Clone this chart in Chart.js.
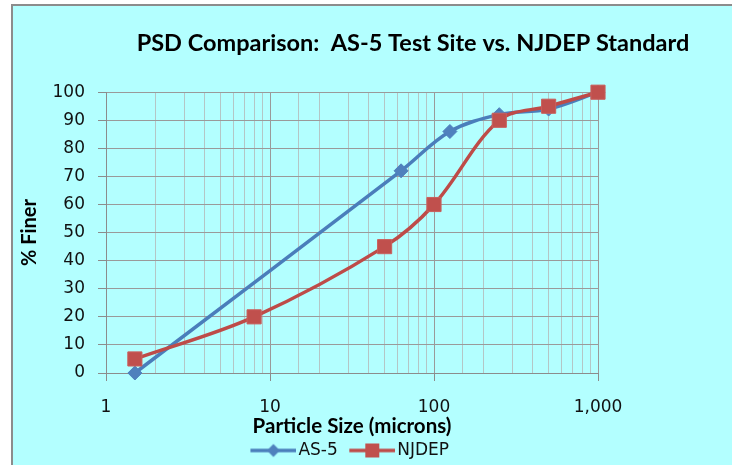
<!DOCTYPE html>
<html><head><meta charset="utf-8">
<script src="https://cdn.jsdelivr.net/npm/chart.js@4/dist/chart.umd.min.js"></script>
<style>html,body{margin:0;padding:0;background:#fff;}canvas{display:block;}</style>
</head><body>
<canvas id="c" width="732" height="465"></canvas>
<script>
// ---- data ----
const chartTitle = 'PSD Comparison:  AS-5 Test Site vs. NJDEP Standard';
const xAxisTitle = 'Particle Size (microns)';
const yAxisTitle = '% Finer';
const seriesNames = ['AS-5', 'NJDEP'];
const as5Sizes = [1.5, 63, 125, 250, 500, 1000];
const as5Finer = [0, 72, 86, 92, 94, 100];
const njdepSizes = [1.5, 8, 50, 100, 250, 500, 1000];
const njdepFiner = [5, 20, 45, 60, 90, 95, 100];
const xLabelValues = [1, 10, 100, 1000];
const yMin = 0, yMax = 100, yStep = 10;

// ---- styles ----
const BLUE_LINE = '#4A7EBB', BLUE = '#4F81BD';
const RED_LINE = '#BE4B48', RED = '#C0504D';
const GRID_MAJOR = '#9A9A9A', GRID_MINOR = '#B4C6C6', AXIS = '#8C8C8C';

function isLabelled(v){ return xLabelValues.some(t => Math.abs(t - v) < 1e-9); }

function legendIcon(lineColor, fill, kind){
  const W = 58, H = 20, L = 46, c = document.createElement('canvas');
  c.width = W; c.height = H;
  const g = c.getContext('2d');
  g.strokeStyle = lineColor; g.lineWidth = 3.5;
  g.beginPath(); g.moveTo(W - L, H/2); g.lineTo(W, H/2); g.stroke();
  g.fillStyle = fill;
  const cx = W - L/2, cy = H/2;
  if (kind === 'diamond'){
    const r = 6.5;
    g.beginPath(); g.moveTo(cx, cy - r); g.lineTo(cx + r, cy); g.lineTo(cx, cy + r); g.lineTo(cx - r, cy); g.closePath(); g.fill();
  } else {
    const s = 14;
    g.fillRect(cx - s/2, cy - s/2, s, s);
  }
  return c;
}
const icons = [legendIcon(BLUE_LINE, BLUE, 'diamond'), legendIcon(RED_LINE, RED, 'square')];

const bgPlugin = {
  id: 'bg',
  beforeDraw(chart){
    const {ctx, width, height} = chart;
    ctx.save();
    ctx.fillStyle = '#ffffff'; ctx.fillRect(0, 0, width, height);
    ctx.fillStyle = '#B3FFFF'; ctx.fillRect(11, 5, width - 11, height - 5);
    ctx.fillStyle = '#8C8C8C';
    ctx.fillRect(11, 4, 2, height - 4);
    ctx.fillRect(11, 4, width - 11, 2);
    ctx.restore();
  }
};
const TITLE_CENTER_X = 413;
const LEGEND_SHIFT_X = -5;
const shiftPlugin = {
  id: 'shiftBlocks',
  afterLayout(chart){
    const t = chart.titleBlock;
    if (t) {
      const dx = TITLE_CENTER_X - (t.left + t.right) / 2;
      t.left += dx; t.right += dx;
    }
    const l = chart.legend;
    if (l) { l.left += LEGEND_SHIFT_X; l.right += LEGEND_SHIFT_X; }
  }
};

new Chart(document.getElementById('c'), {
  type: 'line',
  data: {
    datasets: [
      {
        label: seriesNames[0],
        data: as5Sizes.map((x, i) => ({x, y: as5Finer[i]})),
        borderColor: BLUE_LINE, backgroundColor: BLUE, borderWidth: 3.5,
        pointStyle: 'rectRot', pointRadius: 7, pointBorderWidth: 1,
        pointBackgroundColor: BLUE, pointBorderColor: BLUE,
        tension: 0.35, clip: false, order: 1
      },
      {
        label: seriesNames[1],
        data: njdepSizes.map((x, i) => ({x, y: njdepFiner[i]})),
        borderColor: RED_LINE, backgroundColor: RED, borderWidth: 3.5,
        pointStyle: 'rect', pointRadius: 10, pointBorderWidth: 1,
        pointBackgroundColor: RED, pointBorderColor: '#C9605D',
        tension: 0.35, clip: false, order: 0
      }
    ]
  },
  options: {
    responsive: false,
    animation: false,
    events: [],
    layout: { padding: { top: 0, left: 0, right: 134, bottom: -4 } },
    scales: {
      x: {
        type: 'logarithmic', min: 1, max: 1000,
        afterFit(s){ s.height = 63; },
        grid: {
          color: c => (c.tick && isLabelled(c.tick.value)) ? GRID_MAJOR : GRID_MINOR,
          tickColor: c => (c.tick && isLabelled(c.tick.value)) ? AXIS : 'rgba(0,0,0,0)',
          tickLength: 8, lineWidth: 1
        },
        border: { color: AXIS, width: 1 },
        ticks: {
          autoSkip: false, maxRotation: 0, padding: 16,
          font: { family: 'DejaVu Sans', size: 17 }, color: '#111',
          callback: v => isLabelled(v) ? Number(v).toLocaleString('en-US') : ''
        },
        title: {
          display: true, text: xAxisTitle, color: '#000',
          font: { family: 'Lato', weight: 'bold', size: 20.5, lineHeight: 1 },
          padding: { top: 0, bottom: -1 }
        }
      },
      y: {
        min: yMin, max: yMax,
        afterFit(s){ s.width = 106; },
        grid: { color: GRID_MAJOR, tickColor: AXIS, tickLength: 8, lineWidth: 1 },
        border: { color: AXIS, width: 1 },
        ticks: { stepSize: yStep, padding: 13, font: { family: 'DejaVu Sans', size: 17 }, color: '#111' },
        title: {
          display: true, text: yAxisTitle, color: '#000',
          font: { family: 'Lato', weight: 'bold', size: 20, lineHeight: 1 },
          padding: { top: 20, bottom: 0 }
        }
      }
    },
    plugins: {
      title: {
        display: true, text: chartTitle, color: '#000',
        font: { family: 'Lato', weight: 'bold', size: 23.5, lineHeight: 1.2 },
        padding: { top: 29, bottom: 35 }
      },
      legend: {
        position: 'bottom', fullSize: false,
        labels: {
          usePointStyle: true, pointStyleWidth: 45, padding: 6,
          font: { family: 'DejaVu Sans', size: 17 }, color: '#111',
          generateLabels(chart){
            const items = Chart.defaults.plugins.legend.labels.generateLabels(chart);
            items.forEach(it => { it.pointStyle = icons[it.datasetIndex]; });
            return items.sort((a, b) => a.datasetIndex - b.datasetIndex);
          }
        }
      },
      tooltip: { enabled: false }
    }
  },
  plugins: [bgPlugin, shiftPlugin]
});
</script>
</body></html>
